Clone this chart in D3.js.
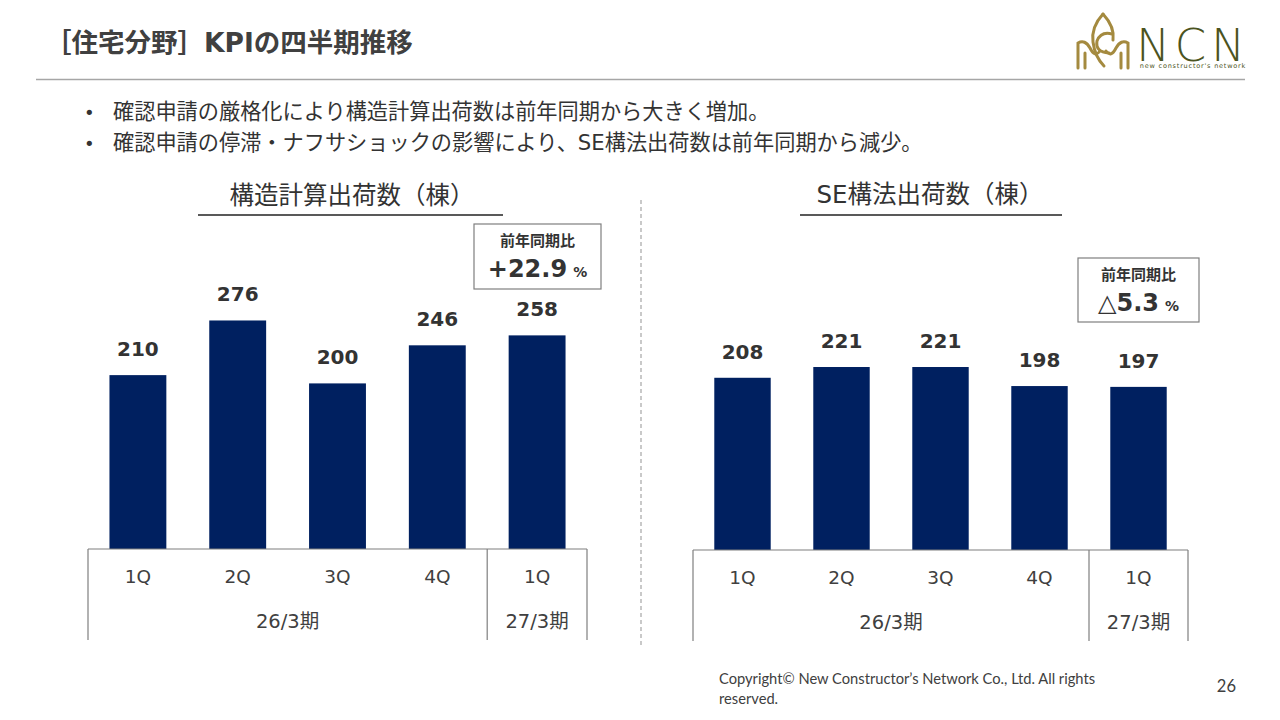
<!DOCTYPE html>
<html>
<head>
<meta charset="utf-8">
<script src="https://cdn.jsdelivr.net/npm/d3@7"></script>
<style>
  html, body { margin: 0; padding: 0; background: #fff; }
  svg { display: block; }
</style>
</head>
<body>
<svg id="slide" width="1280" height="720"></svg>
<script>
// --- data ---
var quarters = ["1Q", "2Q", "3Q", "4Q", "1Q"];
var periods = ["26/3期", "27/3期"];
var periodSpans = [4, 1];
var structCalcShipments = [210, 276, 200, 246, 258];
var seMethodShipments = [208, 221, 221, 198, 197];
var chartTitles = ["構造計算出荷数（棟）", "SE構法出荷数（棟）"];
var yoyLabel = "前年同期比";
var yoyValues = ["+22.9", "△5.3"];
var bullets = [
  "確認申請の厳格化により構造計算出荷数は前年同期から大きく増加。",
  "確認申請の停滞・ナフサショックの影響により、SE構法出荷数は前年同期から減少。"
];

var JP = "'DejaVu Sans', 'Noto Sans CJK JP', sans-serif";
var BAR = "#002060";
var TXT = "#333333";

var svg = d3.select("#slide");

// header
svg.append("text")
  .attr("x", 45).attr("y", 52)
  .attr("font-family", JP).attr("font-weight", "bold")
  .attr("font-size", 26.5).attr("fill", "#404040")
  .text("［住宅分野］KPIの四半期推移");

svg.append("line")
  .attr("x1", 36).attr("x2", 1245).attr("y1", 79.5).attr("y2", 79.5)
  .attr("stroke", "#a6a6a6").attr("stroke-width", 1.5);

// logo
var logo = svg.append("g").attr("fill", "none").attr("stroke", "#a48a3f")
  .attr("stroke-width", 3).attr("stroke-linecap", "round");
logo.append("path").attr("d", "M1103,14 Q1091,27 1093,42 Q1095,57 1104,66");
logo.append("path").attr("d", "M1103,14 Q1115,27 1113,40");
logo.append("path").attr("d", "M1112,34 Q1101,31 1097,41 Q1095,52 1109,53");
logo.append("path").attr("d", "M1078,68 L1078,43 Q1085,39 1090,48 Q1095,58 1100,51");
logo.append("path").attr("d", "M1128,68 L1128,43 Q1121,39 1116,48 Q1111,58 1106,51");
logo.append("path").attr("d", "M1085,68 L1085,53");
logo.append("path").attr("d", "M1121,68 L1121,53");

svg.append("text")
  .attr("x", 1193).attr("y", 61).attr("text-anchor", "middle")
  .attr("font-family", "'DejaVu Sans', sans-serif").attr("font-weight", 200)
  .attr("font-size", 45).attr("letter-spacing", 5).attr("fill", "#4b5320")
  .text("NCN");
svg.append("text")
  .attr("x", 1193).attr("y", 68).attr("text-anchor", "middle")
  .attr("font-family", "'DejaVu Sans', sans-serif")
  .attr("font-size", 6.5).attr("letter-spacing", 0.8).attr("fill", "#4b5320")
  .text("new constructor's network");

// bullets
bullets.forEach(function(b, i) {
  var y = 119 + i * 31;
  svg.append("text").attr("x", 84).attr("y", y)
    .attr("font-family", JP).attr("font-size", 18).attr("fill", TXT).text("•");
  svg.append("text").attr("x", 113).attr("y", y)
    .attr("font-family", JP).attr("font-size", 21.2).attr("fill", TXT).text(b);
});

// divider
svg.append("line")
  .attr("x1", 641).attr("x2", 641).attr("y1", 200).attr("y2", 645)
  .attr("stroke", "#a6a6a6").attr("stroke-width", 1.2)
  .attr("stroke-dasharray", "4,3");

// footer
svg.append("text").attr("x", 719).attr("y", 684)
  .attr("font-family", "Lato, sans-serif").attr("font-size", 14.7).attr("fill", "#404040")
  .text("Copyright© New Constructor’s Network Co., Ltd. All rights");
svg.append("text").attr("x", 719).attr("y", 704)
  .attr("font-family", "Lato, sans-serif").attr("font-size", 14.7).attr("fill", "#404040")
  .text("reserved.");
svg.append("text").attr("x", 1236).attr("y", 692).attr("text-anchor", "end")
  .attr("font-family", "Lato, sans-serif").attr("font-size", 16.5).attr("fill", "#404040")
  .text("26");

function drawChart(cfg) {
  var g = svg.append("g");
  var x = d3.scaleBand()
    .domain(d3.range(cfg.values.length))
    .range([cfg.left, cfg.right])
    .paddingInner(0.43).paddingOuter(0.215);
  var y = d3.scaleLinear().domain([0, 300]).range([cfg.base, cfg.base - 248.4]);

  // title + underline
  g.append("text")
    .attr("x", cfg.titleX).attr("y", cfg.titleY).attr("text-anchor", "middle")
    .attr("font-family", JP).attr("font-size", 24.5).attr("fill", TXT)
    .text(cfg.title);
  g.append("line")
    .attr("x1", cfg.ulX1).attr("x2", cfg.ulX2).attr("y1", 215).attr("y2", 215)
    .attr("stroke", "#595959").attr("stroke-width", 2);

  // bars
  g.selectAll("rect.bar").data(cfg.values).enter().append("rect")
    .attr("class", "bar")
    .attr("x", function(d, i) { return x(i); })
    .attr("width", x.bandwidth())
    .attr("y", function(d) { return y(d); })
    .attr("height", function(d) { return y(0) - y(d); })
    .attr("fill", BAR);

  g.selectAll("text.val").data(cfg.values).enter().append("text")
    .attr("class", "val")
    .attr("x", function(d, i) { return x(i) + x.bandwidth() / 2; })
    .attr("y", function(d) { return y(d) - 19; })
    .attr("text-anchor", "middle")
    .attr("font-family", JP).attr("font-weight", "bold")
    .attr("font-size", 20).attr("fill", TXT)
    .text(function(d) { return d; });

  // category table
  var step = x.step();
  var bottom = cfg.base + 91;
  g.append("line")
    .attr("x1", cfg.left).attr("x2", cfg.right).attr("y1", cfg.base).attr("y2", cfg.base)
    .attr("stroke", "#7f7f7f").attr("stroke-width", 1.2);
  var acc = 0;
  var edges = [0];
  periodSpans.forEach(function(s) { acc += s; edges.push(acc); });
  g.selectAll("line.sep").data(edges).enter().append("line")
    .attr("class", "sep")
    .attr("x1", function(e) { return cfg.left + e * step; })
    .attr("x2", function(e) { return cfg.left + e * step; })
    .attr("y1", cfg.base).attr("y2", bottom)
    .attr("stroke", "#7f7f7f").attr("stroke-width", 1.2);

  g.selectAll("text.q").data(quarters).enter().append("text")
    .attr("class", "q")
    .attr("x", function(d, i) { return x(i) + x.bandwidth() / 2; })
    .attr("y", cfg.base + 34)
    .attr("text-anchor", "middle")
    .attr("font-family", JP).attr("font-size", 18.5).attr("fill", "#404040")
    .text(function(d) { return d; });

  g.selectAll("text.p").data(periods).enter().append("text")
    .attr("class", "p")
    .attr("x", function(d, i) { return cfg.left + (edges[i] + edges[i + 1]) / 2 * step; })
    .attr("y", cfg.base + 79)
    .attr("text-anchor", "middle")
    .attr("font-family", JP).attr("font-size", 19.5).attr("fill", "#404040")
    .text(function(d) { return d; });

  // yoy box
  var bx = cfg.box;
  g.append("rect")
    .attr("x", bx.x).attr("y", bx.y).attr("width", bx.w).attr("height", bx.h)
    .attr("fill", "#fff").attr("stroke", "#7f7f7f").attr("stroke-width", 1.2);
  g.append("text")
    .attr("x", bx.x + bx.w / 2).attr("y", bx.y + 22).attr("text-anchor", "middle")
    .attr("font-family", JP).attr("font-weight", "bold")
    .attr("font-size", 15).attr("fill", TXT).text(yoyLabel);
  var t = g.append("text")
    .attr("x", bx.x + bx.w / 2).attr("y", bx.y + 53).attr("text-anchor", "middle")
    .attr("font-family", JP).attr("font-weight", "bold").attr("fill", TXT);
  t.append("tspan").attr("font-size", 24).text(cfg.yoy);
  t.append("tspan").attr("font-size", 14).attr("dx", 6).text("%");
}

drawChart({
  values: structCalcShipments, left: 88, right: 587, base: 549,
  title: chartTitles[0], titleX: 352, titleY: 204, ulX1: 198, ulX2: 503,
  box: { x: 474, y: 224, w: 127, h: 65 }, yoy: yoyValues[0]
});
drawChart({
  values: seMethodShipments, left: 693, right: 1188, base: 550,
  title: chartTitles[1], titleX: 930, titleY: 203, ulX1: 800, ulX2: 1062,
  box: { x: 1078, y: 258, w: 121, h: 64 }, yoy: yoyValues[1]
});
</script>
</body>
</html>
